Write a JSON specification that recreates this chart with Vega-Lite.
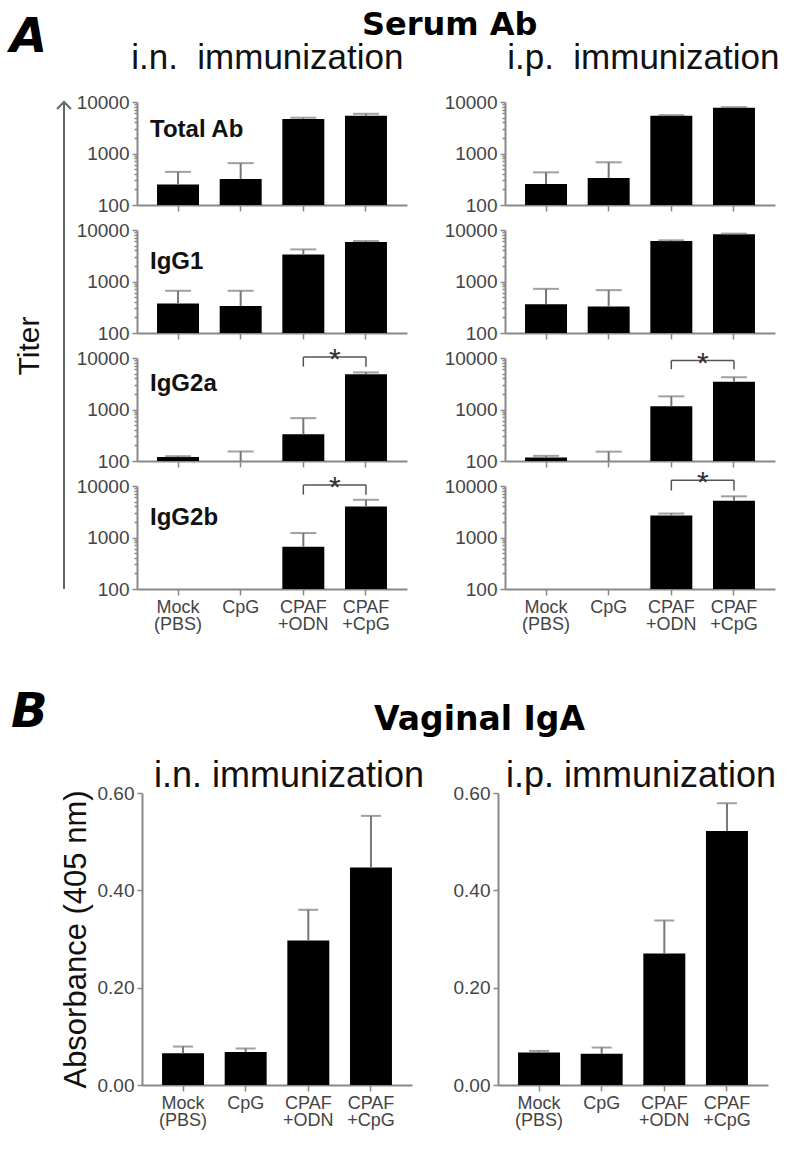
{
"$schema":"https://vega.github.io/schema/vega-lite/v6.json",
"background":"white",
"padding":{"left":10,"top":9,"right":5,"bottom":5},
"config":{"view":{"stroke":null},"font":"Liberation Sans",
 "axis":{"grid":false,"domainColor":"#888","domainWidth":2,"tickColor":"#888","tickWidth":1.5,"labelColor":"#444","labelFont":"Liberation Sans","titleFont":"Liberation Sans","titleFontWeight":"normal","titleColor":"#111"},
 "title":{"font":"Liberation Sans","color":"#111","baseline":"alphabetic","fontWeight":"normal"}},
"datasets":{
"serum":[
{"route":"i.n.","ab":"Total Ab","group":"Mock (PBS)","titer":250,"err":440},
{"route":"i.n.","ab":"Total Ab","group":"CpG","titer":320,"err":650},
{"route":"i.n.","ab":"Total Ab","group":"CPAF +ODN","titer":4700,"err":4950},
{"route":"i.n.","ab":"Total Ab","group":"CPAF +CpG","titer":5400,"err":5900},
{"route":"i.p.","ab":"Total Ab","group":"Mock (PBS)","titer":255,"err":430},
{"route":"i.p.","ab":"Total Ab","group":"CpG","titer":335,"err":675},
{"route":"i.p.","ab":"Total Ab","group":"CPAF +ODN","titer":5400,"err":5550},
{"route":"i.p.","ab":"Total Ab","group":"CPAF +CpG","titer":7700,"err":7950},
{"route":"i.n.","ab":"IgG1","group":"Mock (PBS)","titer":372,"err":660},
{"route":"i.n.","ab":"IgG1","group":"CpG","titer":336,"err":660},
{"route":"i.n.","ab":"IgG1","group":"CPAF +ODN","titer":3360,"err":4200},
{"route":"i.n.","ab":"IgG1","group":"CPAF +CpG","titer":5850,"err":6100},
{"route":"i.p.","ab":"IgG1","group":"Mock (PBS)","titer":363,"err":720},
{"route":"i.p.","ab":"IgG1","group":"CpG","titer":327,"err":680},
{"route":"i.p.","ab":"IgG1","group":"CPAF +ODN","titer":6140,"err":6300},
{"route":"i.p.","ab":"IgG1","group":"CPAF +CpG","titer":8300,"err":8500},
{"route":"i.n.","ab":"IgG2a","group":"Mock (PBS)","titer":120,"err":124},
{"route":"i.n.","ab":"IgG2a","group":"CpG","titer":100,"err":153},
{"route":"i.n.","ab":"IgG2a","group":"CPAF +ODN","titer":331,"err":680},
{"route":"i.n.","ab":"IgG2a","group":"CPAF +CpG","titer":4850,"err":5250},
{"route":"i.p.","ab":"IgG2a","group":"Mock (PBS)","titer":117,"err":126},
{"route":"i.p.","ab":"IgG2a","group":"CpG","titer":100,"err":152},
{"route":"i.p.","ab":"IgG2a","group":"CPAF +ODN","titer":1160,"err":1800},
{"route":"i.p.","ab":"IgG2a","group":"CPAF +CpG","titer":3460,"err":4230},
{"route":"i.n.","ab":"IgG2b","group":"CPAF +ODN","titer":661,"err":1220},
{"route":"i.n.","ab":"IgG2b","group":"CPAF +CpG","titer":3980,"err":5400},
{"route":"i.p.","ab":"IgG2b","group":"CPAF +ODN","titer":2670,"err":2920},
{"route":"i.p.","ab":"IgG2b","group":"CPAF +CpG","titer":5150,"err":6300}
],
"brackets":[
{"route":"i.n.","ab":"IgG2a","a":"CPAF +ODN","b":"CPAF +CpG","top":10450,"bot":6800,"sig":"*"},
{"route":"i.p.","ab":"IgG2a","a":"CPAF +ODN","b":"CPAF +CpG","top":8940,"bot":6060,"sig":"*"},
{"route":"i.n.","ab":"IgG2b","a":"CPAF +ODN","b":"CPAF +CpG","top":10470,"bot":6800,"sig":"*"},
{"route":"i.p.","ab":"IgG2b","a":"CPAF +ODN","b":"CPAF +CpG","top":12950,"bot":8170,"sig":"*"}
],
"vag":[
{"route":"i.n.","group":"Mock (PBS)","abs":0.065,"err":0.079},
{"route":"i.n.","group":"CpG","abs":0.068,"err":0.075},
{"route":"i.n.","group":"CPAF +ODN","abs":0.297,"err":0.360},
{"route":"i.n.","group":"CPAF +CpG","abs":0.447,"err":0.553},
{"route":"i.p.","group":"Mock (PBS)","abs":0.067,"err":0.070},
{"route":"i.p.","group":"CpG","abs":0.064,"err":0.077},
{"route":"i.p.","group":"CPAF +ODN","abs":0.270,"err":0.338},
{"route":"i.p.","group":"CPAF +CpG","abs":0.522,"err":0.579}
]},
"spacing":56,
"vconcat":[
{"title":{"text":"A","anchor":"start","font":"DejaVu Sans","fontSize":48,"fontWeight":"bold","fontStyle":"italic","color":"#000","offset":-53,"dx":-4},
 "vconcat":[{
  "title":{"text":"Serum Ab","anchor":"start","font":"DejaVu Sans","fontSize":32,"fontWeight":"bold","color":"#000","offset":-1,"dx":348},
  "spacing":1,
  "hconcat":[
   {"width":10,"height":487,
    "data":{"values":[{"axis":"Titer"}]},
    "layer":[
     {"mark":{"type":"rule","color":"#666","strokeWidth":2},
      "encoding":{"y":{"datum":0,"type":"quantitative","scale":{"domain":[0,1],"nice":false},"axis":{"title":"Titer","titleFontSize":30,"titlePadding":15,"labels":false,"ticks":false,"domain":false,"grid":false}},"y2":{"datum":1}}},
     {"mark":{"type":"point","shape":"M -1 1 L 0 0 L 1 1","filled":false,"color":"#666","strokeWidth":2,"size":196,"opacity":1},
      "encoding":{"y":{"datum":1,"type":"quantitative"}}}
    ]},
   {"spacing":37,
    "hconcat":[
     {"title":{"text":"i.n.\u00a0 immunization","anchor":"start","fontSize":35,"offset":17,"dx":55},
      "bounds":"flush","spacing":25,
      "vconcat":[
       {"width":270,"height":103,"data":{"name":"serum"},"transform":[{"filter":"datum.route=='i.n.' && datum.ab=='Total Ab'"}],"layer":[
        {"mark":{"type":"bar","color":"#000"},"encoding":{"x":{"field":"group","type":"nominal","title":null,"scale":{"domain":["Mock (PBS)","CpG","CPAF +ODN","CPAF +CpG"],"paddingInner":0.33,"paddingOuter":0.32},"axis":{"labels":false,"tickSize":6,"title":null}},"y":{"field":"titer","type":"quantitative","title":null,"scale":{"type":"log","domain":[100,10000],"nice":false},"axis":{"values":[100,200,300,400,500,600,700,800,900,1000,2000,3000,4000,5000,6000,7000,8000,9000,10000],"labelExpr":"(datum.value==100||datum.value==1000||datum.value==10000)?format(datum.value,'d'):''","labelOverlap":false,"labelFontSize":19,"labelPadding":3,"tickSize":{"condition":{"test":"datum.value==100||datum.value==1000||datum.value==10000","value":5},"value":3},"title":null}},"y2":{"datum":100}}},
        {"mark":{"type":"rule","color":"#777","strokeWidth":2},"encoding":{"x":{"field":"group","type":"nominal"},"y":{"field":"titer","type":"quantitative"},"y2":{"field":"err"}}},
        {"mark":{"type":"tick","color":"#777","thickness":2,"size":26},"encoding":{"x":{"field":"group","type":"nominal"},"y":{"field":"err","type":"quantitative"}}},
        {"transform":[{"aggregate":[{"op":"count","as":"n"}],"groupby":["ab"]}],"mark":{"type":"text","align":"left","baseline":"alphabetic","fontSize":24,"fontWeight":"bold","color":"#111","dx":-7},"encoding":{"x":{"datum":"Mock (PBS)","type":"nominal","bandPosition":0},"y":{"datum":2100,"type":"quantitative"},"text":{"field":"ab","type":"nominal"}}}
       ]},
       {"width":270,"height":103,"data":{"name":"serum"},"transform":[{"filter":"datum.route=='i.n.' && datum.ab=='IgG1'"}],"layer":[
        {"mark":{"type":"bar","color":"#000"},"encoding":{"x":{"field":"group","type":"nominal","title":null,"scale":{"domain":["Mock (PBS)","CpG","CPAF +ODN","CPAF +CpG"],"paddingInner":0.33,"paddingOuter":0.32},"axis":{"labels":false,"tickSize":6,"title":null}},"y":{"field":"titer","type":"quantitative","title":null,"scale":{"type":"log","domain":[100,10000],"nice":false},"axis":{"values":[100,200,300,400,500,600,700,800,900,1000,2000,3000,4000,5000,6000,7000,8000,9000,10000],"labelExpr":"(datum.value==100||datum.value==1000||datum.value==10000)?format(datum.value,'d'):''","labelOverlap":false,"labelFontSize":19,"labelPadding":3,"tickSize":{"condition":{"test":"datum.value==100||datum.value==1000||datum.value==10000","value":5},"value":3},"title":null}},"y2":{"datum":100}}},
        {"mark":{"type":"rule","color":"#777","strokeWidth":2},"encoding":{"x":{"field":"group","type":"nominal"},"y":{"field":"titer","type":"quantitative"},"y2":{"field":"err"}}},
        {"mark":{"type":"tick","color":"#777","thickness":2,"size":26},"encoding":{"x":{"field":"group","type":"nominal"},"y":{"field":"err","type":"quantitative"}}},
        {"transform":[{"aggregate":[{"op":"count","as":"n"}],"groupby":["ab"]}],"mark":{"type":"text","align":"left","baseline":"alphabetic","fontSize":24,"fontWeight":"bold","color":"#111","dx":-7},"encoding":{"x":{"datum":"Mock (PBS)","type":"nominal","bandPosition":0},"y":{"datum":1750,"type":"quantitative"},"text":{"field":"ab","type":"nominal"}}}
       ]},
       {"width":270,"height":103,"data":{"name":"serum"},"transform":[{"filter":"datum.route=='i.n.' && datum.ab=='IgG2a'"}],"layer":[
        {"mark":{"type":"bar","color":"#000"},"encoding":{"x":{"field":"group","type":"nominal","title":null,"scale":{"domain":["Mock (PBS)","CpG","CPAF +ODN","CPAF +CpG"],"paddingInner":0.33,"paddingOuter":0.32},"axis":{"labels":false,"tickSize":6,"title":null}},"y":{"field":"titer","type":"quantitative","title":null,"scale":{"type":"log","domain":[100,10000],"nice":false},"axis":{"values":[100,200,300,400,500,600,700,800,900,1000,2000,3000,4000,5000,6000,7000,8000,9000,10000],"labelExpr":"(datum.value==100||datum.value==1000||datum.value==10000)?format(datum.value,'d'):''","labelOverlap":false,"labelFontSize":19,"labelPadding":3,"tickSize":{"condition":{"test":"datum.value==100||datum.value==1000||datum.value==10000","value":5},"value":3},"title":null}},"y2":{"datum":100}}},
        {"mark":{"type":"rule","color":"#777","strokeWidth":2},"encoding":{"x":{"field":"group","type":"nominal"},"y":{"field":"titer","type":"quantitative"},"y2":{"field":"err"}}},
        {"mark":{"type":"tick","color":"#777","thickness":2,"size":26},"encoding":{"x":{"field":"group","type":"nominal"},"y":{"field":"err","type":"quantitative"}}},
        {"transform":[{"aggregate":[{"op":"count","as":"n"}],"groupby":["ab"]}],"mark":{"type":"text","align":"left","baseline":"alphabetic","fontSize":24,"fontWeight":"bold","color":"#111","dx":-7},"encoding":{"x":{"datum":"Mock (PBS)","type":"nominal","bandPosition":0},"y":{"datum":2300,"type":"quantitative"},"text":{"field":"ab","type":"nominal"}}},
        {"data":{"name":"brackets"},"transform":[{"filter":"datum.route=='i.n.' && datum.ab=='IgG2a'"}],"layer":[
         {"mark":{"type":"rule","color":"#555","strokeWidth":1.5},"encoding":{"x":{"field":"a","type":"nominal","bandPosition":0.5},"x2":{"field":"b","bandPosition":0.5},"y":{"field":"top","type":"quantitative"}}},
         {"mark":{"type":"rule","color":"#555","strokeWidth":1.5},"encoding":{"x":{"field":"a","type":"nominal"},"y":{"field":"top","type":"quantitative"},"y2":{"field":"bot"}}},
         {"mark":{"type":"rule","color":"#555","strokeWidth":1.5},"encoding":{"x":{"field":"b","type":"nominal"},"y":{"field":"top","type":"quantitative"},"y2":{"field":"bot"}}},
         {"mark":{"type":"text","fontSize":30,"baseline":"alphabetic","dy":12,"color":"#333"},"encoding":{"x":{"field":"a","type":"nominal","bandPosition":1.25},"y":{"field":"top","type":"quantitative"},"text":{"field":"sig","type":"nominal"}}}
        ]}
       ]},
       {"width":270,"height":103,"data":{"name":"serum"},"transform":[{"filter":"datum.route=='i.n.' && datum.ab=='IgG2b'"}],"layer":[
        {"mark":{"type":"bar","color":"#000"},"encoding":{"x":{"field":"group","type":"nominal","title":null,"scale":{"domain":["Mock (PBS)","CpG","CPAF +ODN","CPAF +CpG"],"paddingInner":0.33,"paddingOuter":0.32},"axis":{"labelExpr":"split(datum.label, ' ')","labelAngle":0,"labelFontSize":18,"labelLineHeight":17,"labelPadding":3,"tickSize":6,"title":null}},"y":{"field":"titer","type":"quantitative","title":null,"scale":{"type":"log","domain":[100,10000],"nice":false},"axis":{"values":[100,200,300,400,500,600,700,800,900,1000,2000,3000,4000,5000,6000,7000,8000,9000,10000],"labelExpr":"(datum.value==100||datum.value==1000||datum.value==10000)?format(datum.value,'d'):''","labelOverlap":false,"labelFontSize":19,"labelPadding":3,"tickSize":{"condition":{"test":"datum.value==100||datum.value==1000||datum.value==10000","value":5},"value":3},"title":null}},"y2":{"datum":100}}},
        {"mark":{"type":"rule","color":"#777","strokeWidth":2},"encoding":{"x":{"field":"group","type":"nominal"},"y":{"field":"titer","type":"quantitative"},"y2":{"field":"err"}}},
        {"mark":{"type":"tick","color":"#777","thickness":2,"size":26},"encoding":{"x":{"field":"group","type":"nominal"},"y":{"field":"err","type":"quantitative"}}},
        {"transform":[{"aggregate":[{"op":"count","as":"n"}],"groupby":["ab"]}],"mark":{"type":"text","align":"left","baseline":"alphabetic","fontSize":24,"fontWeight":"bold","color":"#111","dx":-7},"encoding":{"x":{"datum":"Mock (PBS)","type":"nominal","bandPosition":0},"y":{"datum":1750,"type":"quantitative"},"text":{"field":"ab","type":"nominal"}}},
        {"data":{"name":"brackets"},"transform":[{"filter":"datum.route=='i.n.' && datum.ab=='IgG2b'"}],"layer":[
         {"mark":{"type":"rule","color":"#555","strokeWidth":1.5},"encoding":{"x":{"field":"a","type":"nominal","bandPosition":0.5},"x2":{"field":"b","bandPosition":0.5},"y":{"field":"top","type":"quantitative"}}},
         {"mark":{"type":"rule","color":"#555","strokeWidth":1.5},"encoding":{"x":{"field":"a","type":"nominal"},"y":{"field":"top","type":"quantitative"},"y2":{"field":"bot"}}},
         {"mark":{"type":"rule","color":"#555","strokeWidth":1.5},"encoding":{"x":{"field":"b","type":"nominal"},"y":{"field":"top","type":"quantitative"},"y2":{"field":"bot"}}},
         {"mark":{"type":"text","fontSize":30,"baseline":"alphabetic","dy":12,"color":"#333"},"encoding":{"x":{"field":"a","type":"nominal","bandPosition":1.25},"y":{"field":"top","type":"quantitative"},"text":{"field":"sig","type":"nominal"}}}
        ]}
       ]}
      ]},
     {"title":{"text":"i.p.\u00a0 immunization","anchor":"start","fontSize":35,"offset":17,"dx":63},
      "bounds":"flush","spacing":25,
      "vconcat":[
       {"width":270,"height":103,"data":{"name":"serum"},"transform":[{"filter":"datum.route=='i.p.' && datum.ab=='Total Ab'"}],"layer":[
        {"mark":{"type":"bar","color":"#000"},"encoding":{"x":{"field":"group","type":"nominal","title":null,"scale":{"domain":["Mock (PBS)","CpG","CPAF +ODN","CPAF +CpG"],"paddingInner":0.33,"paddingOuter":0.32},"axis":{"labels":false,"tickSize":6,"title":null}},"y":{"field":"titer","type":"quantitative","title":null,"scale":{"type":"log","domain":[100,10000],"nice":false},"axis":{"values":[100,200,300,400,500,600,700,800,900,1000,2000,3000,4000,5000,6000,7000,8000,9000,10000],"labelExpr":"(datum.value==100||datum.value==1000||datum.value==10000)?format(datum.value,'d'):''","labelOverlap":false,"labelFontSize":19,"labelPadding":3,"tickSize":{"condition":{"test":"datum.value==100||datum.value==1000||datum.value==10000","value":5},"value":3},"title":null}},"y2":{"datum":100}}},
        {"mark":{"type":"rule","color":"#777","strokeWidth":2},"encoding":{"x":{"field":"group","type":"nominal"},"y":{"field":"titer","type":"quantitative"},"y2":{"field":"err"}}},
        {"mark":{"type":"tick","color":"#777","thickness":2,"size":26},"encoding":{"x":{"field":"group","type":"nominal"},"y":{"field":"err","type":"quantitative"}}}
       ]},
       {"width":270,"height":103,"data":{"name":"serum"},"transform":[{"filter":"datum.route=='i.p.' && datum.ab=='IgG1'"}],"layer":[
        {"mark":{"type":"bar","color":"#000"},"encoding":{"x":{"field":"group","type":"nominal","title":null,"scale":{"domain":["Mock (PBS)","CpG","CPAF +ODN","CPAF +CpG"],"paddingInner":0.33,"paddingOuter":0.32},"axis":{"labels":false,"tickSize":6,"title":null}},"y":{"field":"titer","type":"quantitative","title":null,"scale":{"type":"log","domain":[100,10000],"nice":false},"axis":{"values":[100,200,300,400,500,600,700,800,900,1000,2000,3000,4000,5000,6000,7000,8000,9000,10000],"labelExpr":"(datum.value==100||datum.value==1000||datum.value==10000)?format(datum.value,'d'):''","labelOverlap":false,"labelFontSize":19,"labelPadding":3,"tickSize":{"condition":{"test":"datum.value==100||datum.value==1000||datum.value==10000","value":5},"value":3},"title":null}},"y2":{"datum":100}}},
        {"mark":{"type":"rule","color":"#777","strokeWidth":2},"encoding":{"x":{"field":"group","type":"nominal"},"y":{"field":"titer","type":"quantitative"},"y2":{"field":"err"}}},
        {"mark":{"type":"tick","color":"#777","thickness":2,"size":26},"encoding":{"x":{"field":"group","type":"nominal"},"y":{"field":"err","type":"quantitative"}}}
       ]},
       {"width":270,"height":103,"data":{"name":"serum"},"transform":[{"filter":"datum.route=='i.p.' && datum.ab=='IgG2a'"}],"layer":[
        {"mark":{"type":"bar","color":"#000"},"encoding":{"x":{"field":"group","type":"nominal","title":null,"scale":{"domain":["Mock (PBS)","CpG","CPAF +ODN","CPAF +CpG"],"paddingInner":0.33,"paddingOuter":0.32},"axis":{"labels":false,"tickSize":6,"title":null}},"y":{"field":"titer","type":"quantitative","title":null,"scale":{"type":"log","domain":[100,10000],"nice":false},"axis":{"values":[100,200,300,400,500,600,700,800,900,1000,2000,3000,4000,5000,6000,7000,8000,9000,10000],"labelExpr":"(datum.value==100||datum.value==1000||datum.value==10000)?format(datum.value,'d'):''","labelOverlap":false,"labelFontSize":19,"labelPadding":3,"tickSize":{"condition":{"test":"datum.value==100||datum.value==1000||datum.value==10000","value":5},"value":3},"title":null}},"y2":{"datum":100}}},
        {"mark":{"type":"rule","color":"#777","strokeWidth":2},"encoding":{"x":{"field":"group","type":"nominal"},"y":{"field":"titer","type":"quantitative"},"y2":{"field":"err"}}},
        {"mark":{"type":"tick","color":"#777","thickness":2,"size":26},"encoding":{"x":{"field":"group","type":"nominal"},"y":{"field":"err","type":"quantitative"}}},
        {"data":{"name":"brackets"},"transform":[{"filter":"datum.route=='i.p.' && datum.ab=='IgG2a'"}],"layer":[
         {"mark":{"type":"rule","color":"#555","strokeWidth":1.5},"encoding":{"x":{"field":"a","type":"nominal","bandPosition":0.5},"x2":{"field":"b","bandPosition":0.5},"y":{"field":"top","type":"quantitative"}}},
         {"mark":{"type":"rule","color":"#555","strokeWidth":1.5},"encoding":{"x":{"field":"a","type":"nominal"},"y":{"field":"top","type":"quantitative"},"y2":{"field":"bot"}}},
         {"mark":{"type":"rule","color":"#555","strokeWidth":1.5},"encoding":{"x":{"field":"b","type":"nominal"},"y":{"field":"top","type":"quantitative"},"y2":{"field":"bot"}}},
         {"mark":{"type":"text","fontSize":30,"baseline":"alphabetic","dy":12,"color":"#333"},"encoding":{"x":{"field":"a","type":"nominal","bandPosition":1.25},"y":{"field":"top","type":"quantitative"},"text":{"field":"sig","type":"nominal"}}}
        ]}
       ]},
       {"width":270,"height":103,"data":{"name":"serum"},"transform":[{"filter":"datum.route=='i.p.' && datum.ab=='IgG2b'"}],"layer":[
        {"mark":{"type":"bar","color":"#000"},"encoding":{"x":{"field":"group","type":"nominal","title":null,"scale":{"domain":["Mock (PBS)","CpG","CPAF +ODN","CPAF +CpG"],"paddingInner":0.33,"paddingOuter":0.32},"axis":{"labelExpr":"split(datum.label, ' ')","labelAngle":0,"labelFontSize":18,"labelLineHeight":17,"labelPadding":3,"tickSize":6,"title":null}},"y":{"field":"titer","type":"quantitative","title":null,"scale":{"type":"log","domain":[100,10000],"nice":false},"axis":{"values":[100,200,300,400,500,600,700,800,900,1000,2000,3000,4000,5000,6000,7000,8000,9000,10000],"labelExpr":"(datum.value==100||datum.value==1000||datum.value==10000)?format(datum.value,'d'):''","labelOverlap":false,"labelFontSize":19,"labelPadding":3,"tickSize":{"condition":{"test":"datum.value==100||datum.value==1000||datum.value==10000","value":5},"value":3},"title":null}},"y2":{"datum":100}}},
        {"mark":{"type":"rule","color":"#777","strokeWidth":2},"encoding":{"x":{"field":"group","type":"nominal"},"y":{"field":"titer","type":"quantitative"},"y2":{"field":"err"}}},
        {"mark":{"type":"tick","color":"#777","thickness":2,"size":26},"encoding":{"x":{"field":"group","type":"nominal"},"y":{"field":"err","type":"quantitative"}}},
        {"data":{"name":"brackets"},"transform":[{"filter":"datum.route=='i.p.' && datum.ab=='IgG2b'"}],"layer":[
         {"mark":{"type":"rule","color":"#555","strokeWidth":1.5},"encoding":{"x":{"field":"a","type":"nominal","bandPosition":0.5},"x2":{"field":"b","bandPosition":0.5},"y":{"field":"top","type":"quantitative"}}},
         {"mark":{"type":"rule","color":"#555","strokeWidth":1.5},"encoding":{"x":{"field":"a","type":"nominal"},"y":{"field":"top","type":"quantitative"},"y2":{"field":"bot"}}},
         {"mark":{"type":"rule","color":"#555","strokeWidth":1.5},"encoding":{"x":{"field":"b","type":"nominal"},"y":{"field":"top","type":"quantitative"},"y2":{"field":"bot"}}},
         {"mark":{"type":"text","fontSize":30,"baseline":"alphabetic","dy":12,"color":"#333"},"encoding":{"x":{"field":"a","type":"nominal","bandPosition":1.25},"y":{"field":"top","type":"quantitative"},"text":{"field":"sig","type":"nominal"}}}
        ]}
       ]}
      ]}
    ]}
  ]
 }]
},
{"title":{"text":"B","anchor":"start","font":"DejaVu Sans","fontSize":48,"fontWeight":"bold","fontStyle":"italic","color":"#000","offset":-33,"dx":-48},
 "vconcat":[{
  "title":{"text":"Vaginal IgA","anchor":"start","font":"DejaVu Sans","fontSize":33,"fontWeight":"bold","color":"#000","offset":21,"dx":315},
  "spacing":0,
  "hconcat":[
   {"width":1,"height":1,"data":{"values":[]},"mark":"point"},
   {"spacing":28,
    "hconcat":[
     {"width":270,"height":292,"title":{"text":"i.n. immunization","fontSize":36,"offset":-11,"frame":"group","dx":12},
      "data":{"name":"vag"},"transform":[{"filter":"datum.route=='i.n.'"}],"layer":[
       {"mark":{"type":"bar","color":"#000"},"encoding":{"x":{"field":"group","type":"nominal","title":null,"scale":{"domain":["Mock (PBS)","CpG","CPAF +ODN","CPAF +CpG"],"paddingInner":0.33,"paddingOuter":0.32},"axis":{"labelExpr":"split(datum.label, ' ')","labelAngle":0,"labelFontSize":18,"labelLineHeight":17,"labelPadding":3,"tickSize":6,"title":null}},"y":{"field":"abs","type":"quantitative","scale":{"domain":[0,0.6],"nice":false},"axis":{"values":[0,0.2,0.4,0.6],"format":".2f","labelFontSize":19,"labelPadding":3,"tickSize":5,"title":"Absorbance (405 nm)","titleFontSize":31,"titlePadding":5}}}},
       {"mark":{"type":"rule","color":"#777","strokeWidth":2},"encoding":{"x":{"field":"group","type":"nominal"},"y":{"field":"abs","type":"quantitative"},"y2":{"field":"err"}}},
       {"mark":{"type":"tick","color":"#777","thickness":2,"size":20},"encoding":{"x":{"field":"group","type":"nominal"},"y":{"field":"err","type":"quantitative"}}}
      ]},
     {"width":270,"height":292,"title":{"text":"i.p. immunization","fontSize":36,"offset":-11,"frame":"group","dx":8},
      "data":{"name":"vag"},"transform":[{"filter":"datum.route=='i.p.'"}],"layer":[
       {"mark":{"type":"bar","color":"#000"},"encoding":{"x":{"field":"group","type":"nominal","title":null,"scale":{"domain":["Mock (PBS)","CpG","CPAF +ODN","CPAF +CpG"],"paddingInner":0.33,"paddingOuter":0.32},"axis":{"labelExpr":"split(datum.label, ' ')","labelAngle":0,"labelFontSize":18,"labelLineHeight":17,"labelPadding":3,"tickSize":6,"title":null}},"y":{"field":"abs","type":"quantitative","scale":{"domain":[0,0.6],"nice":false},"axis":{"values":[0,0.2,0.4,0.6],"format":".2f","labelFontSize":19,"labelPadding":3,"tickSize":5,"title":null}}}},
       {"mark":{"type":"rule","color":"#777","strokeWidth":2},"encoding":{"x":{"field":"group","type":"nominal"},"y":{"field":"abs","type":"quantitative"},"y2":{"field":"err"}}},
       {"mark":{"type":"tick","color":"#777","thickness":2,"size":20},"encoding":{"x":{"field":"group","type":"nominal"},"y":{"field":"err","type":"quantitative"}}}
      ]}
    ]}
  ]
 }]
}
]
}
